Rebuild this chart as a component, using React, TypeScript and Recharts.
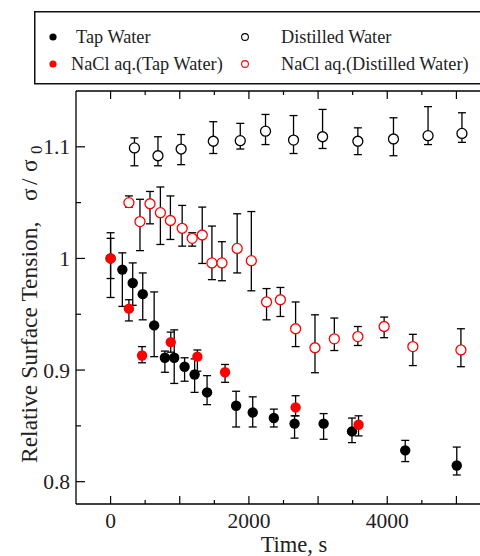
import React from 'react';
import { ScatterChart, Scatter, XAxis, YAxis, ErrorBar, Legend } from 'recharts';

// each row: [time (s), sigma/sigma0, bottom of error bar, top of error bar]
const tapWater = [
  [0, 1.0, 0.982, 1.018],
  [170, 0.99, 0.957, 1.005],
  [320, 0.978, 0.958, 0.996],
  [465, 0.968, 0.945, 0.987],
  [630, 0.94, 0.912, 0.97],
  [785, 0.911, 0.898, 0.917],
  [920, 0.911, 0.888, 0.936],
  [1070, 0.903, 0.89, 0.911],
  [1215, 0.896, 0.88, 0.91],
  [1395, 0.88, 0.869, 0.895],
  [1815, 0.868, 0.849, 0.881],
  [2055, 0.862, 0.849, 0.876],
  [2360, 0.857, 0.849, 0.865],
  [2660, 0.852, 0.839, 0.859],
  [3080, 0.852, 0.838, 0.861],
  [3490, 0.845, 0.835, 0.857],
  [4260, 0.828, 0.818, 0.837],
  [5005, 0.8145, 0.806, 0.831],
];

const distilledWater = [
  [345, 1.099, 1.083, 1.108],
  [685, 1.092, 1.083, 1.109],
  [1020, 1.098, 1.084, 1.111],
  [1485, 1.105, 1.094, 1.1225],
  [1875, 1.1055, 1.098, 1.121],
  [2240, 1.114, 1.102, 1.129],
  [2645, 1.106, 1.094, 1.128],
  [3065, 1.109, 1.0985, 1.1335],
  [3575, 1.105, 1.093, 1.117],
  [4090, 1.107, 1.092, 1.126],
  [4590, 1.11, 1.102, 1.136],
  [5080, 1.112, 1.104, 1.1305],
];

const naclTap = [
  [0, 1.0, 0.965, 1.023],
  [265, 0.955, 0.944, 0.963],
  [455, 0.913, 0.9065, 0.921],
  [870, 0.925, 0.916, 0.934],
  [1255, 0.912, 0.899, 0.918],
  [1655, 0.898, 0.889, 0.905],
  [2675, 0.8665, 0.859, 0.877],
  [3585, 0.851, 0.841, 0.859],
];

const naclDistilled = [
  [265, 1.05, 1.046, 1.056],
  [425, 1.033, 1.007, 1.053],
  [570, 1.049, 1.031, 1.06],
  [720, 1.041, 1.0125, 1.064],
  [865, 1.034, 1.017, 1.056],
  [1035, 1.027, 1.011, 1.0475],
  [1180, 1.018, 1.011, 1.023],
  [1325, 1.021, 0.9955, 1.046],
  [1465, 0.996, 0.981, 1.029],
  [1610, 0.996, 0.98, 1.015],
  [1830, 1.009, 0.987, 1.04],
  [2035, 0.998, 0.971, 1.042],
  [2255, 0.961, 0.945, 0.973],
  [2455, 0.963, 0.948, 0.974],
  [2675, 0.937, 0.921, 0.961],
  [2955, 0.92, 0.8976, 0.9495],
  [3235, 0.928, 0.9175, 0.9466],
  [3575, 0.93, 0.922, 0.939],
  [3955, 0.939, 0.929, 0.9475],
  [4370, 0.921, 0.904, 0.932],
  [5065, 0.918, 0.903, 0.937],
];

const xTicks = [0, 500, 1000, 1500, 2000, 2500, 3000, 3500, 4000, 4500, 5000];
const yTicks = [0.8, 0.85, 0.9, 0.95, 1.0, 1.05, 1.1];

const FONT = '"Liberation Serif", "Times New Roman", serif';

const series = [
  { name: 'Tap Water', rows: tapWater, color: '#000', filled: true },
  { name: 'Distilled Water', rows: distilledWater, color: '#000', filled: false },
  { name: 'NaCl aq.(Tap Water)', rows: naclTap, color: '#f00', filled: true },
  { name: 'NaCl aq.(Distilled Water)', rows: naclDistilled, color: '#f00', filled: false },
];

const toPoints = (rows: number[][]) =>
  rows.map(([t, v, lo, hi]) => ({ t, v, err: [v - lo, hi - v] }));

const dot = (color: string, filled: boolean) => (props: any) => {
  const { cx, cy } = props;
  if (cx == null || cy == null) return <g />;
  return filled ? (
    <circle cx={cx} cy={cy} r={5.2} fill={color} />
  ) : (
    <circle cx={cx} cy={cy} r={5} fill="#fff" stroke={color} strokeWidth={1.3} />
  );
};

const BottomTick = (props: any) => {
  const { x, y, payload } = props;
  const v = payload.value;
  const major = v % 1000 === 0;
  return (
    <g>
      <line x1={x} x2={x} y1={y} y2={y - (major ? 8 : 4)} stroke="#000" strokeWidth={1.2} />
      {v % 2000 === 0 && (
        <text x={x} y={y + 24} textAnchor="middle" fontFamily={FONT} fontSize={21.5} fill="#222">
          {v}
        </text>
      )}
    </g>
  );
};

const TopTick = (props: any) => {
  const { x, y, payload } = props;
  const major = payload.value % 1000 === 0;
  return <line x1={x} x2={x} y1={y} y2={y + (major ? 8 : 4)} stroke="#000" strokeWidth={1.2} />;
};

const LeftTick = (props: any) => {
  const { x, y, payload } = props;
  const v = payload.value;
  const major = Math.round(v * 100) % 10 === 0;
  return (
    <g>
      <line x1={x} x2={x + (major ? 9 : 5)} y1={y} y2={y} stroke="#000" strokeWidth={1.2} />
      {major && (
        <text x={x - 6} y={y} dy="0.35em" textAnchor="end" fontFamily={FONT} fontSize={21.5} fill="#222">
          {Math.round(v * 10) / 10}
        </text>
      )}
    </g>
  );
};

const YLabel = () => (
  <text transform="translate(37,463) rotate(-90)" fontFamily={FONT} fontSize={23.5} fill="#222">
    <tspan x={0}>Relative Surface Tension,</tspan>
    <tspan x={262}>σ</tspan>
    <tspan x={278}>/</tspan>
    <tspan x={291}>σ</tspan>
    <tspan x={309} dy={5} fontSize={17}>0</tspan>
  </text>
);

const XLabel = () => (
  <text x={294} y={552} textAnchor="middle" fontFamily={FONT} fontSize={22.5} fill="#222">
    Time, s
  </text>
);

const LegendBox = () => {
  const markX = [19, 211];
  const textX = [[42, 247], [37, 247]];
  const rowY = [26, 53];
  return (
    <svg width={470} height={74} style={{ display: 'block' }}>
      <rect x={0.75} y={0.75} width={480} height={72} fill="#fff" stroke="#111" strokeWidth={1.5} />
      {series.map((s, i) => {
        const col = i % 2;
        const row = Math.floor(i / 2);
        return (
          <g key={s.name}>
            {s.filled ? (
              <circle cx={markX[col]} cy={rowY[row]} r={3.6} fill={s.color} />
            ) : (
              <circle cx={markX[col]} cy={rowY[row]} r={3.4} fill="#fff" stroke={s.color} strokeWidth={1.1} />
            )}
            <text x={textX[row][col]} y={rowY[row] + 6} fontFamily={FONT} fontSize={18.3} fill="#222">
              {s.name}
            </text>
          </g>
        );
      })}
    </svg>
  );
};

export default function App() {
  return (
    <div style={{ position: 'absolute', left: 0, top: 0, width: 480, height: 556, overflow: 'hidden', background: '#fff' }}>
      <ScatterChart width={500} height={556} margin={{ top: 71, right: 9, bottom: 12, left: 6 }}>
        <XAxis
          dataKey="t"
          type="number"
          domain={[-500, 5500]}
          ticks={xTicks}
          interval={0}
          height={40}
          tickSize={0}
          tickMargin={0}
          tick={<BottomTick />}
          axisLine={{ stroke: '#000', strokeWidth: 1.3 }}
          allowDataOverflow
          label={<XLabel />}
        />
        <XAxis
          xAxisId="top"
          orientation="top"
          dataKey="t"
          type="number"
          domain={[-500, 5500]}
          ticks={xTicks}
          interval={0}
          height={20}
          tickSize={0}
          tickMargin={0}
          tick={<TopTick />}
          axisLine={{ stroke: '#000', strokeWidth: 1.3 }}
          allowDataOverflow
        />
        <YAxis
          dataKey="v"
          type="number"
          domain={[0.78, 1.15]}
          ticks={yTicks}
          interval={0}
          width={70}
          tickSize={0}
          tickMargin={0}
          tick={<LeftTick />}
          axisLine={{ stroke: '#000', strokeWidth: 1.3 }}
          allowDataOverflow
          label={<YLabel />}
        />
        <Legend
          layout="horizontal"
          verticalAlign="middle"
          align="center"
          wrapperStyle={{ left: 34, top: 11, width: 470, height: 74 }}
          content={() => <LegendBox />}
        />
        {series.map((s) => (
          <Scatter
            key={s.name}
            name={s.name}
            data={toPoints(s.rows)}
            fill={s.color}
            shape={dot(s.color, s.filled)}
            isAnimationActive={false}
          >
            <ErrorBar dataKey="err" direction="y" width={4} stroke="#000" strokeWidth={1.3} isAnimationActive={false} />
          </Scatter>
        ))}
      </ScatterChart>
    </div>
  );
}
